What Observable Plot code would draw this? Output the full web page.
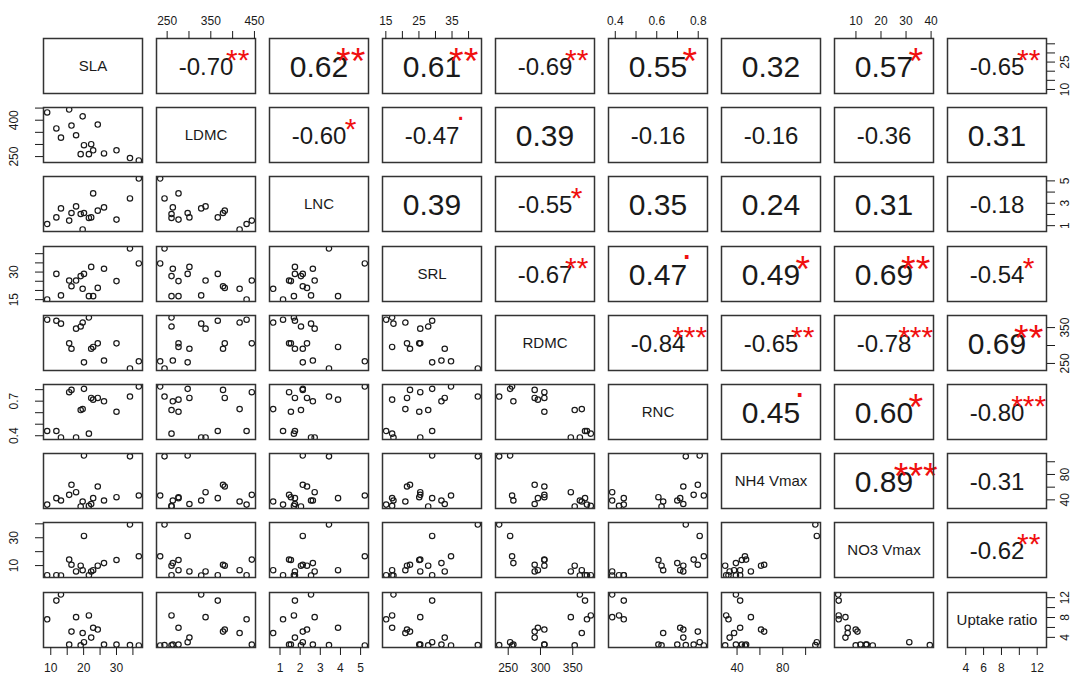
<!DOCTYPE html>
<html>
<head>
<meta charset="utf-8">
<script src="https://cdn.jsdelivr.net/npm/d3@7"></script>
<script src="https://cdn.jsdelivr.net/npm/@observablehq/plot@0.6"></script>
<style>
  html, body { margin: 0; padding: 0; background: #fff; }
  #chart { position: relative; width: 1071px; height: 677px; overflow: hidden; background: #fff; }
  #chart svg { position: absolute; overflow: visible; background: transparent; }
</style>
</head>
<body>
<div id="chart"></div>
<script>
const variables = ["SLA", "LDMC", "LNC", "SRL", "RDMC", "RNC", "NH4 Vmax", "NO3 Vmax", "Uptake ratio"];

const SLA    = [8.9, 11.7, 13.1, 15.6, 16.3, 17.7, 19.1, 19.7, 20.1, 21.6, 22.3, 22.9, 24.3, 26.2, 30.0, 34.1, 36.8];
const LDMC   = [432, 366, 328, 444, 378, 338, 260, 416, 297, 260, 301, 276, 382, 263, 276, 244, 234];
const LNC    = [1.15, 1.74, 2.54, 1.45, 2.13, 2.72, 2.04, 0.66, 2.13, 1.69, 1.74, 3.88, 2.34, 2.63, 1.54, 3.43, 5.21];
const SRL    = [15.1, 29.0, 17.3, 25.4, 22.3, 25.4, 27.8, 20.9, 29.0, 16.9, 32.8, 16.9, 21.4, 31.8, 25.1, 42.8, 34.7];
const RDMC   = [372, 369, 361, 306, 291, 347, 353, 364, 253, 378, 291, 296, 306, 258, 306, 236, 256];
const RNC    = [0.441, 0.441, 0.385, 0.778, 0.798, 0.385, 0.623, 0.631, 0.807, 0.418, 0.728, 0.713, 0.728, 0.699, 0.608, 0.740, 0.827];
const NH4    = [32.5, 42.7, 39.0, 47.9, 63.7, 52.1, 29.6, 37.4, 109.8, 30.5, 33.5, 42.7, 61.0, 39.0, 44.2, 108.5, 46.9];
const NO3    = [3.1, 3.1, 2.9, 14.3, 10.6, 5.8, 9.9, 6.7, 31.3, 3.1, 5.8, 6.7, 9.9, 11.8, 14.0, 39.5, 16.7];
const Uptake = [7.64, 11.41, 12.63, 2.53, 5.16, 8.07, 2.40, 4.87, 3.03, 8.42, 3.95, 5.94, 5.58, 2.55, 2.55, 2.45, 2.37];

// correlation coefficients shown in the upper triangle (row by row)
const corrValues = [
  [-0.70, 0.62, 0.61, -0.69, 0.55, 0.32, 0.57, -0.65],
  [-0.60, -0.47, 0.39, -0.16, -0.16, -0.36, 0.31],
  [0.39, -0.55, 0.35, 0.24, 0.31, -0.18],
  [-0.67, 0.47, 0.49, 0.69, -0.54],
  [-0.84, -0.65, -0.78, 0.69],
  [0.45, 0.60, -0.80],
  [0.89, -0.31],
  [-0.62]
];
const corrSignif = [
  ["**", "**", "**", "**", "*", "", "*", "**"],
  ["*", ".", "", "", "", "", ""],
  ["", "*", "", "", "", ""],
  ["**", ".", "*", "**", "*"],
  ["***", "**", "***", "**"],
  [".", "*", "***"],
  ["***", ""],
  ["**"]
];

// axis ticks and the labels that are printed on each side
const tickValues = [
  [10, 15, 20, 25, 30, 35],
  [250, 300, 350, 400, 450],
  [1, 2, 3, 4, 5],
  [15, 20, 25, 30, 35, 40],
  [250, 300, 350],
  [0.4, 0.5, 0.6, 0.7, 0.8],
  [40, 60, 80, 100],
  [10, 20, 30, 40],
  [4, 6, 8, 10, 12]
];
const topLabels    = {1: [250, 350, 450], 3: [15, 25, 35], 5: [0.4, 0.6, 0.8], 7: [10, 20, 30, 40]};
const bottomLabels = {0: [10, 20, 30], 2: [1, 2, 3, 4, 5], 4: [250, 300, 350], 6: [40, 80], 8: [4, 6, 8, 12]};
const leftLabels   = {1: [250, 400], 3: [15, 30], 5: [0.4, 0.7], 7: [10, 30]};
const rightLabels  = {0: [10, 25], 2: [1, 3, 5], 4: [250, 350], 6: [40, 80], 8: [4, 8, 12]};

// ---------------- layout / style ----------------
const W = 99, H = 55, SX = 113, SY = 69.2, X0 = 43, Y0 = 38;
const FONT = "'Liberation Sans', Arial, Helvetica, sans-serif";
const INK = "#1a1a1a";
const RED = "#f01010";

const columns = [SLA, LDMC, LNC, SRL, RDMC, RNC, NH4, NO3, Uptake];
const nObs = SLA.length;
const table = d3.range(nObs).map(k => Object.fromEntries(variables.map((v, i) => [v, columns[i][k]])));
// R pairs(): data range extended by 4% on each side
const domains = columns.map(c => {
  const [a, b] = d3.extent(c);
  const p = (b - a) * 0.04;
  return [a - p, b + p];
});

const fmtTick = d => String(d);
const chart = document.getElementById("chart");
const NV = variables.length;

for (let i = 0; i < NV; i++) {
  for (let j = 0; j < NV; j++) {
    const hasTop = i === 0 && j % 2 === 1;
    const hasBottom = i === NV - 1 && j % 2 === 0;
    const hasLeft = j === 0 && i % 2 === 1;
    const hasRight = j === NV - 1 && i % 2 === 0;
    const mT = hasTop ? 40 : 0, mB = hasBottom ? 36 : 0, mL = hasLeft ? 44 : 0, mR = hasRight ? 30 : 0;
    const marks = [];

    if (i === j) {
      marks.push(Plot.text([variables[i]], {frameAnchor: "middle", text: d => d, fontSize: 15, fill: INK}));
    } else if (j > i) {
      const r = corrValues[i][j - i - 1];
      const sig = corrSignif[i][j - i - 1];
      const fs = r < 0 ? 24 : 30;
      marks.push(Plot.text([r], {frameAnchor: "middle", text: d => d.toFixed(2), fontSize: fs, fill: INK, dy: 1}));
      if (sig) {
        const sf = fs * 1.25;
        const isDot = sig === ".";
        marks.push(Plot.text([sig], {
          frameAnchor: "top-left", text: d => d, fontSize: sf, fill: RED,
          textAnchor: "middle", lineAnchor: "middle",
          dx: W * (isDot ? 0.79 : 0.82),
          dy: H * (isDot ? 0.2 : 0.25) + (isDot ? -0.27 : 0.27) * sf
        }));
      }
    } else {
      marks.push(Plot.dot(table, {x: variables[j], y: variables[i], r: 2.7, stroke: INK, strokeWidth: 1.2, clip: true}));
    }
    marks.push(Plot.frame({stroke: "#333", strokeWidth: 1.5}));

    if (hasTop) marks.push(Plot.axisX({anchor: "top", ticks: tickValues[j], tickSize: 8, tickPadding: 6,
      tickFormat: d => topLabels[j].includes(d) ? fmtTick(d) : "", fontSize: 12, label: null, color: INK}));
    if (hasBottom) marks.push(Plot.axisX({anchor: "bottom", ticks: tickValues[j], tickSize: 8, tickPadding: 8,
      tickFormat: d => bottomLabels[j].includes(d) ? fmtTick(d) : "", fontSize: 12, label: null, color: INK}));
    if (hasLeft) marks.push(Plot.axisY({anchor: "left", ticks: tickValues[i], tickSize: 8, tickPadding: 18,
      tickRotate: -90, textAnchor: "middle", lineAnchor: "bottom",
      tickFormat: d => leftLabels[i].includes(d) ? fmtTick(d) : "", fontSize: 12, label: null, color: INK}));
    if (hasRight) marks.push(Plot.axisY({anchor: "right", ticks: tickValues[i], tickSize: 8, tickPadding: 14,
      tickRotate: -90, textAnchor: "middle", lineAnchor: "bottom",
      tickFormat: d => rightLabels[i].includes(d) ? fmtTick(d) : "", fontSize: 12, label: null, color: INK}));

    const svg = Plot.plot({
      width: W + mL + mR,
      height: H + mT + mB,
      marginTop: mT, marginBottom: mB, marginLeft: mL, marginRight: mR,
      x: {domain: domains[j], axis: null},
      y: {domain: domains[i], axis: null},
      style: {fontFamily: FONT, background: "transparent", overflow: "visible", maxWidth: "none"},
      marks
    });
    svg.style.left = (X0 + SX * j - mL) + "px";
    svg.style.top = (Y0 + SY * i - mT) + "px";
    chart.appendChild(svg);
  }
}
</script>
</body>
</html>
